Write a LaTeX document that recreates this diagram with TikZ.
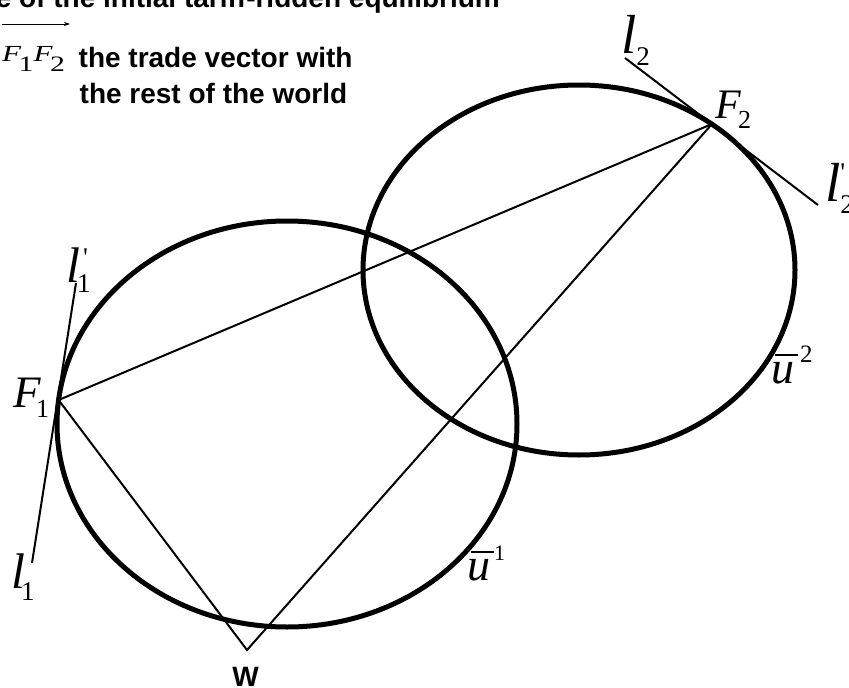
\documentclass[tikz,border=0pt]{standalone}
\usepackage{fontspec}
\usepackage{graphicx}
\setmainfont{Liberation Serif}
\newfontfamily\arialfont{Liberation Sans}
\usetikzlibrary{arrows.meta}
\newcommand\fs[1]{\fontsize{#1}{#1}\selectfont}
\begin{document}
\begin{tikzpicture}[x=1pt,y=-1pt,
  ell/.style={line width=5pt},
  thinline/.style={line width=2pt},
  lab/.style={inner sep=0pt, anchor=base west},
  txt/.style={inner sep=0pt, anchor=base west, font=\arialfont\bfseries\fs{28}},
  vecarrow/.style={line width=0.9pt, -{Stealth[length=6pt,width=4pt]}},
]
\useasboundingbox (0,0) rectangle (849,688);
\begin{scope}
\clip (0,0) rectangle (849,688);
% centres and points
\coordinate (c1) at (287,424);
\coordinate (c2) at (579,270);
\coordinate (F1) at (58.6,400);
\coordinate (F2) at (712,124);
\coordinate (W) at (247,650);
\coordinate (l1a) at (76,283);
\coordinate (l1b) at (32,563);
\coordinate (l2a) at (625,58);
\coordinate (l2b) at (818,205);
\coordinate (arrS) at (2,24);
\coordinate (arrE) at (70,24);

% indifference curves
\draw[ell] (c1) ellipse [x radius=230pt, y radius=203pt];
\draw[ell] (c2) ellipse [x radius=216pt, y radius=185pt];

% lines
\draw[thinline] (F1) -- (F2);
\draw[thinline] (F1) -- (W) -- (F2);
\draw[thinline] (l1a) -- (l1b);
\draw[thinline] (l2a) -- (l2b);

% labels
\node[lab] (F1lab) at (13,407) {\fs{45}\textit{F}\kern-5pt\raisebox{-10pt}{\fs{26}1}};
\node[lab] (F2lab) at (715,118) {\fs{42}\textit{F}\kern-3pt\raisebox{-10pt}{\fs{26}2}};
\node[lab] (l2lab) at (621,53) {\fs{55}\textit{l}\raisebox{-12pt}{\fs{27}2}};
\node[lab] (l2plab) at (825,201) {\fs{55}\textit{l}\rlap{\raisebox{20pt}{\fs{27}\textquotesingle}}\raisebox{-12pt}{\fs{27}2}};
\node[lab] (l1plab) at (66,282) {\fs{50}\textit{l}\rlap{\kern3pt\raisebox{16pt}{\fs{27}\textquotesingle}}\kern-3pt\raisebox{-10pt}{\fs{27}1}};
\node[lab] (l1lab) at (11,588) {\fs{50}\textit{l}\kern-4pt\raisebox{-12pt}{\fs{27}1}};
\node[lab] (u2lab) at (771,383) {\fs{46}\rlap{\hspace{4pt}\rule[27pt]{23pt}{2pt}}\textit{u}\kern6pt\raisebox{21pt}{\fs{25}2}};
\node[lab] (u1lab) at (467,580) {\fs{46}\rlap{\hspace{4pt}\rule[27pt]{23pt}{2pt}}\textit{u}\kern4pt\raisebox{20pt}{\fs{22}1}};
\node[txt, anchor=base] (Wlab) at (245.5,686) {W};

% legend
\node[lab] (veclab) at (2,61) {\scalebox{1.35}[1]{\fs{23}\textit{F}\kern-2pt\raisebox{-10pt}{\fs{22}1}\textit{F}\kern-2pt\raisebox{-10pt}{\fs{22}2}}};
\draw[vecarrow] (arrS) -- (arrE);
\node[txt] (leg1) at (78.5,67) {the trade vector with};
\node[txt] (leg2) at (79.5,103) {the rest of the world};
\node[txt] (title) at (-4.4,7.5) {e of the initial tariff-ridden equilibrium};
\end{scope}
\end{tikzpicture}
\end{document}
